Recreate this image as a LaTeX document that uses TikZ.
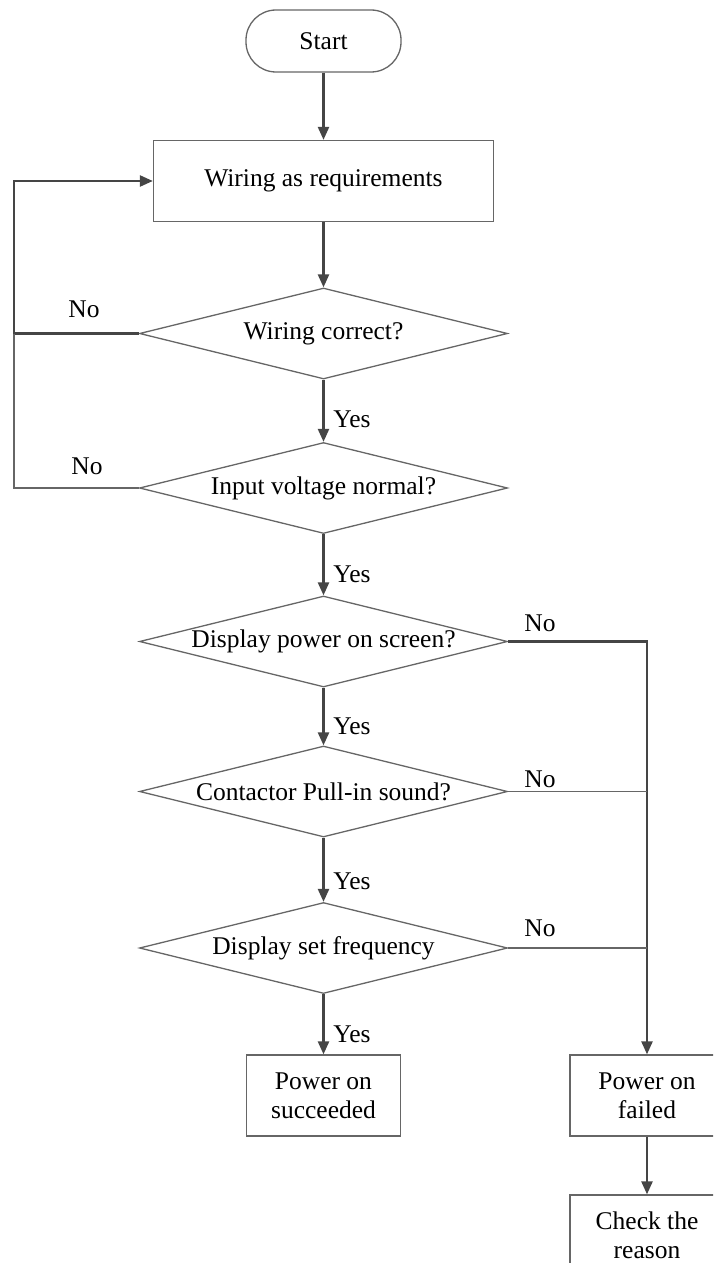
\documentclass[tikz,border=0pt]{standalone}
\usepackage{fontspec}
\setmainfont{Liberation Serif}
\usetikzlibrary{shapes.geometric,arrows.meta}
\definecolor{outl}{HTML}{666666}
\definecolor{conc}{HTML}{454545}
\begin{document}
\begin{tikzpicture}[x=1pt,y=-1pt,
  every node/.style={font=\fontsize{25.5}{29}\selectfont},
  box/.style={draw=outl,line width=1.3pt,minimum width=154pt,minimum height=81pt,inner sep=0pt,align=center},
  startbox/.style={draw=outl,line width=1.3pt,minimum width=155pt,minimum height=62pt,rounded corners=30pt,inner sep=0pt},
  dia/.style={draw=outl,line width=1.3pt,shape=diamond,minimum width=368pt,minimum height=91pt,inner sep=0pt},
  conn/.style={draw=conc,line width=2.4pt,-{Triangle[length=13pt,width=11pt]}},
  plainline/.style={draw=conc,line width=2.4pt},
  thinline/.style={draw=outl,line width=1.3pt},
  lbl/.style={inner sep=0pt}
]
\useasboundingbox (0,0) rectangle (713,1263);
\clip (0,0) rectangle (713,1263);

\node[startbox] (start) at (323.5,41) {Start};
\node[box,minimum width=340pt] (wire) at (323.5,181) {Wiring as requirements};
\node[dia] (d1) at (323.5,333.5) {\makebox[0pt]{Wiring correct?}};
\node[dia] (d2) at (323.5,488) {\makebox[0pt]{Input voltage normal?}};
\node[dia] (d3) at (323.5,641.5) {\makebox[0pt]{Display power on screen?}};
\node[dia] (d4) at (323.5,791.5) {\makebox[0pt]{Contactor Pull-in sound?}};
\node[dia] (d5) at (323.5,948) {\makebox[0pt]{Display set frequency}};
\node[box] (succ) at (323.5,1095.5) {Power on\\succeeded};
\node[box] (fail) at (647,1095.5) {Power on\\failed};
\node[box] (check) at (647,1235.5) {Check the\\reason};

\coordinate (lp1) at (14,333.5);
\coordinate (lp2) at (14,181);

\draw[conn] (start) -- (wire);
\draw[conn] (wire) -- (d1);
\draw[conn] (d1) -- (d2);
\draw[conn] (d2) -- (d3);
\draw[conn] (d3) -- (d4);
\draw[conn] (d4) -- (d5);
\draw[conn] (d5) -- (succ);
\draw[conn] (fail) -- (check);

\draw[conn] (d1.west) -- (lp1) -- (lp2) -- (wire.west);
\draw[thinline] (d2.west) -| (lp1);

\draw[conn] (d3.east) -| (fail.north);
\draw[thinline] (d4.east) -- (d4.east -| fail.north);
\draw[thinline] (d5.east) -- (d5.east -| fail.north);

\node[lbl] (y1) at (352,419) {Yes};
\node[lbl] (y2) at (352,574) {Yes};
\node[lbl] (y3) at (352,726) {Yes};
\node[lbl] (y4) at (352,881) {Yes};
\node[lbl] (y5) at (352,1034) {Yes};
\node[lbl] (n1) at (84,309) {No};
\node[lbl] (n2) at (87,466) {No};
\node[lbl] (n3) at (540,623) {No};
\node[lbl] (n4) at (540,779) {No};
\node[lbl] (n5) at (540,928) {No};
\end{tikzpicture}
\end{document}
